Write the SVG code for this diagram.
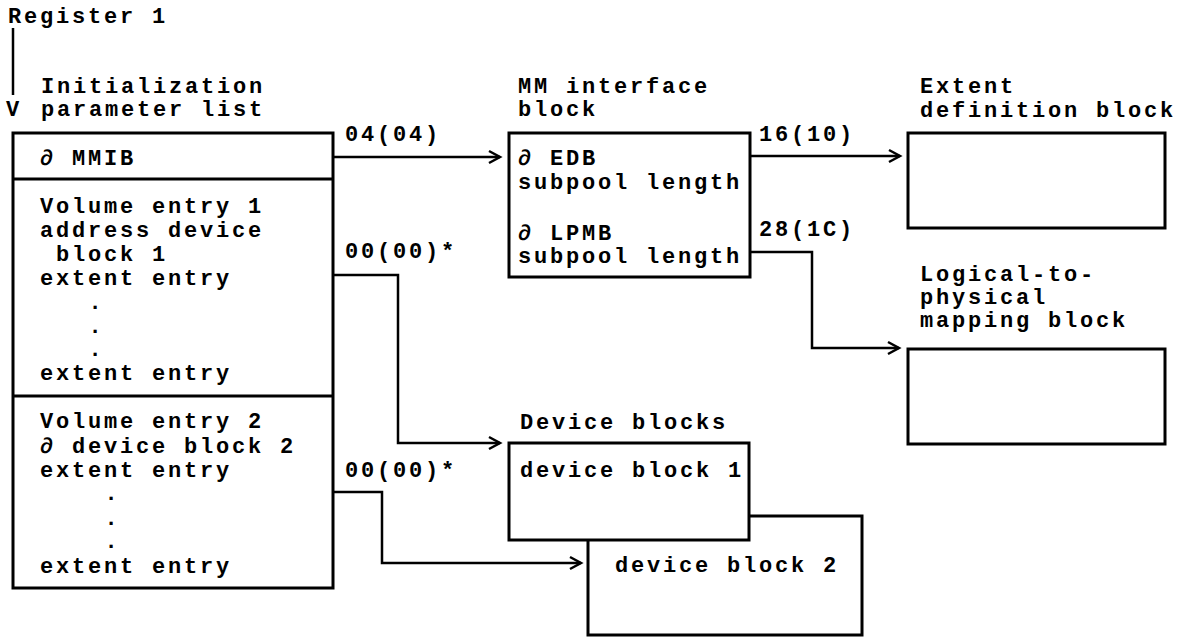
<svg xmlns="http://www.w3.org/2000/svg" width="1177" height="638" viewBox="0 0 1177 638">
<defs>
<style>
text{font-family:"Liberation Mono","DejaVu Sans Mono",monospace;font-weight:bold;font-size:22px;letter-spacing:2.8px;fill:#000}
.box{fill:#fff;stroke:#000;stroke-width:3}
.div{stroke:#000;stroke-width:3}
.con{fill:none;stroke:#000;stroke-width:2.5}
.dot{text-anchor:middle;letter-spacing:0}
</style>
<marker id="chev" markerUnits="userSpaceOnUse" markerWidth="16" markerHeight="16" viewBox="0 0 16 16" refX="13" refY="8" orient="auto">
<path d="M2,2 L13,8 L2,14" fill="none" stroke="#000" stroke-width="2.5"/>
</marker>
</defs>
<rect width="1177" height="638" fill="#fff"/>

<g id="register1">
<text x="8" y="23">Register 1</text>
</g>

<g id="connectors">
<line class="con" x1="13" y1="28" x2="13" y2="95"/>
<text x="6" y="116">V</text>
<polyline class="con" points="333,157 500,157" marker-end="url(#chev)"/>
<text x="345" y="141">04(04)</text>
<polyline class="con" points="750,156 900,156" marker-end="url(#chev)"/>
<text x="759" y="141">16(10)</text>
<polyline class="con" points="750,252 812,252 812,348 899,348" marker-end="url(#chev)"/>
<text x="759" y="236">28(1C)</text>
<polyline class="con" points="333,275 398,275 398,443 500,443" marker-end="url(#chev)"/>
<text x="345" y="258">00(00)*</text>
<polyline class="con" points="333,492 382,492 382,563 581,563" marker-end="url(#chev)"/>
<text x="345" y="477">00(00)*</text>
</g>

<g id="init-param-list">
<text x="41" y="93">Initialization</text>
<text x="41" y="116">parameter list</text>
<rect class="box" x="13" y="133" width="320" height="455"/>
<line class="div" x1="13" y1="179" x2="333" y2="179"/>
<line class="div" x1="13" y1="396" x2="333" y2="396"/>
<text x="40" y="165">∂ MMIB</text>
<text x="40" y="213">Volume entry 1</text>
<text x="40" y="237">address device</text>
<text x="56" y="261">block 1</text>
<text x="40" y="285">extent entry</text>
<text class="dot" x="95" y="309">.</text>
<text class="dot" x="95" y="333">.</text>
<text class="dot" x="95" y="356">.</text>
<text x="40" y="380">extent entry</text>
<text x="40" y="428">Volume entry 2</text>
<text x="40" y="453">∂ device block 2</text>
<text x="40" y="477">extent entry</text>
<text class="dot" x="111" y="500">.</text>
<text class="dot" x="111" y="525">.</text>
<text class="dot" x="111" y="548">.</text>
<text x="40" y="573">extent entry</text>
</g>

<g id="mm-interface-block">
<text x="518" y="93">MM interface</text>
<text x="518" y="116">block</text>
<rect class="box" x="509" y="133" width="241" height="144"/>
<text x="518" y="165">∂ EDB</text>
<text x="518" y="189">subpool length</text>
<text x="518" y="240">∂ LPMB</text>
<text x="518" y="263">subpool length</text>
</g>

<g id="extent-definition-block">
<text x="920" y="93">Extent</text>
<text x="920" y="117">definition block</text>
<rect class="box" x="908" y="133" width="257" height="95"/>
</g>

<g id="lpmb">
<text x="920" y="281">Logical-to-</text>
<text x="920" y="304">physical</text>
<text x="920" y="327">mapping block</text>
<rect class="box" x="908" y="349" width="257" height="95"/>
</g>

<g id="device-block-2">
<rect class="box" x="588" y="516" width="274" height="119"/>
<text x="615" y="572">device block 2</text>
</g>

<g id="device-block-1">
<text x="520" y="429">Device blocks</text>
<rect class="box" x="509" y="443" width="240" height="97"/>
<text x="520" y="477">device block 1</text>
</g>
</svg>
